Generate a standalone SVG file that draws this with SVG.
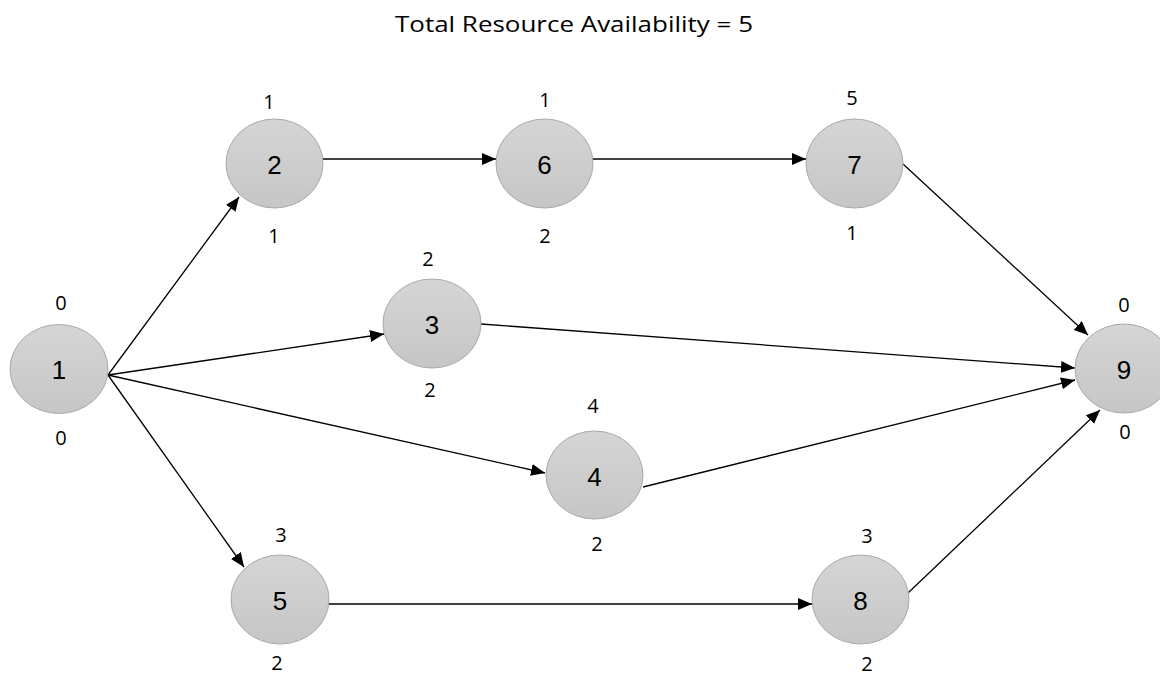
<svg xmlns="http://www.w3.org/2000/svg" width="1160" height="677" viewBox="0 0 1160 677">
<style>
.node ellipse{fill:url(#g);stroke:#a9a9a9;stroke-width:1}
.num{font-family:"Liberation Sans",Arial,sans-serif;font-size:26px;fill:#000;text-anchor:middle}
.lbl{font-family:"Open Sans","Liberation Sans",sans-serif;font-size:20px;fill:#000;text-anchor:middle}
.title{font-family:"Open Sans","Liberation Sans",sans-serif;font-size:22px;fill:#000;text-anchor:middle}
#edges line{stroke:#000;stroke-width:1.3;marker-end:url(#ah)}
</style>
<defs>
<linearGradient id="g" x1="0" y1="0" x2="0" y2="1">
<stop offset="0" stop-color="#d5d5d5"/>
<stop offset="1" stop-color="#c6c6c6"/>
</linearGradient>
<marker id="ah" markerUnits="userSpaceOnUse" markerWidth="15" markerHeight="13" refX="14" refY="6" orient="auto">
<path d="M0,0 L14,6 L0,12 z" fill="#000"/>
</marker>
</defs>
<rect width="1160" height="677" fill="#fff"/>
<text class="title" x="574" y="32" textLength="358" lengthAdjust="spacingAndGlyphs">Total Resource Availability = 5</text>
<g id="edges">
<line x1="108" y1="375" x2="239" y2="197"/>
<line x1="108" y1="375" x2="384" y2="334"/>
<line x1="108" y1="375" x2="545" y2="473"/>
<line x1="108" y1="375" x2="244" y2="567"/>
<line x1="323" y1="159" x2="496" y2="159"/>
<line x1="593" y1="159" x2="806" y2="159"/>
<line x1="903" y1="164" x2="1088" y2="335"/>
<line x1="481" y1="324" x2="1075" y2="368"/>
<line x1="643" y1="487" x2="1075" y2="380"/>
<line x1="329" y1="604" x2="812" y2="604"/>
<line x1="908" y1="593" x2="1100" y2="410"/>
</g>
<g id="n1" class="node"><ellipse cx="59" cy="369" rx="49" ry="44.5"/><text class="num" x="59" y="379">1</text><text class="lbl" x="61" y="310">0</text><text class="lbl" x="61" y="445">0</text></g>
<g id="n2" class="node"><ellipse cx="274.5" cy="163.5" rx="48.5" ry="44.5"/><text class="num" x="274.5" y="174">2</text><text class="lbl" x="269" y="109">1</text><text class="lbl" x="274" y="243">1</text></g>
<g id="n3" class="node"><ellipse cx="432" cy="323.5" rx="49" ry="44.5"/><text class="num" x="432" y="334">3</text><text class="lbl" x="428" y="266">2</text><text class="lbl" x="430" y="397">2</text></g>
<g id="n4" class="node"><ellipse cx="594.5" cy="475" rx="48.5" ry="44"/><text class="num" x="594.5" y="485.5">4</text><text class="lbl" x="593" y="413">4</text><text class="lbl" x="597" y="551">2</text></g>
<g id="n5" class="node"><ellipse cx="280" cy="599.5" rx="49" ry="44.5"/><text class="num" x="280" y="610">5</text><text class="lbl" x="281" y="542">3</text><text class="lbl" x="277" y="670">2</text></g>
<g id="n6" class="node"><ellipse cx="544.5" cy="163.5" rx="48.5" ry="44.5"/><text class="num" x="544.5" y="174">6</text><text class="lbl" x="545" y="107">1</text><text class="lbl" x="545" y="243">2</text></g>
<g id="n7" class="node"><ellipse cx="854.5" cy="163.5" rx="48.5" ry="44.5"/><text class="num" x="854.5" y="174">7</text><text class="lbl" x="852" y="105">5</text><text class="lbl" x="852" y="240">1</text></g>
<g id="n8" class="node"><ellipse cx="860.5" cy="599.5" rx="48.5" ry="44.5"/><text class="num" x="860.5" y="610">8</text><text class="lbl" x="867" y="543">3</text><text class="lbl" x="867" y="671">2</text></g>
<g id="n9" class="node"><ellipse cx="1124" cy="368.5" rx="49" ry="44.5"/><text class="num" x="1124" y="379">9</text><text class="lbl" x="1124" y="312">0</text><text class="lbl" x="1125" y="439">0</text></g>
</svg>
